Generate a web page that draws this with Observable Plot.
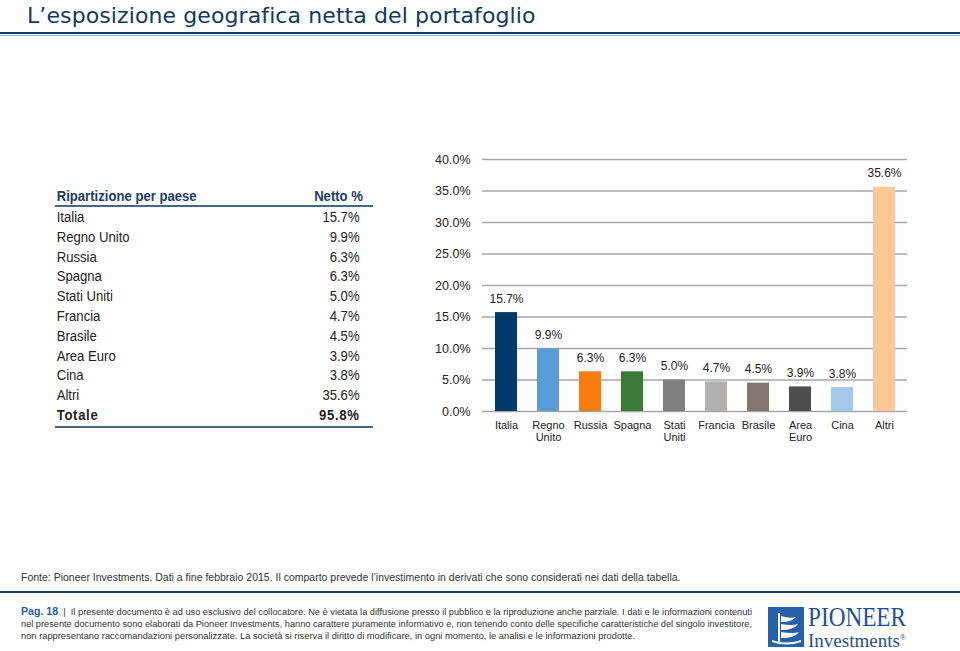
<!DOCTYPE html>
<html><head><meta charset="utf-8">
<script src="https://cdn.jsdelivr.net/npm/d3@7"></script>
<script src="https://cdn.jsdelivr.net/npm/@observablehq/plot@0.6"></script>
<style>
body{margin:0;width:960px;height:651px;position:relative;background:#fff;font-family:Arial,"Liberation Sans",sans-serif;overflow:hidden}
.abs{position:absolute}
#title{left:27px;top:3px;font-family:"DejaVu Sans",Arial,sans-serif;font-size:22px;letter-spacing:0.1px;color:#0f3a63;white-space:nowrap}
#tline{left:0;top:32px;width:960px;height:2px;background:#0f3a63}
#tline2{left:0;top:35px;width:960px;height:1px;background:#9db4cc}
#table{left:55px;top:187px;width:376px;transform:scaleX(0.846);transform-origin:0 0;font-family:Arial,"Liberation Sans",sans-serif}
#table .row{display:flex;justify-content:space-between;height:19.8px;line-height:19.8px;font-size:15.5px;color:#222;padding-left:2px;padding-right:16px}
#table .hdr{font-weight:bold;color:#1c3d63;border-bottom:2px solid #4a6580;height:18px;line-height:18px;padding-right:12px}
#table .tot{font-weight:bold;border-bottom:2px solid #4a6580;height:21px;padding-right:16px;letter-spacing:0.8px}
#chart{left:400px;top:150px}
#fonte{left:21px;top:571px;font-size:10.5px;color:#333;white-space:nowrap}
#fline{left:0;top:591px;width:960px;height:2px;background:#1b3a5c}
.fl{left:21px;font-size:9.6px;line-height:12px;color:#333;white-space:nowrap;transform-origin:0 0}
.fl b{color:#1f5fa8;font-size:11px}
#logo{left:768px;top:607px;width:36px;height:40px;background:#2560a8}
#pio{left:808px;top:604px;font-family:"Liberation Serif","DejaVu Serif",serif;color:#1f4f9a;font-size:27px;line-height:27px;transform:scaleX(0.86);transform-origin:0 0;white-space:nowrap}
#inv{left:808px;top:628px;font-family:"Liberation Serif","DejaVu Serif",serif;color:#1f4f9a;font-size:19px;line-height:20px;white-space:nowrap}
#inv sup{font-size:8px}
</style></head>
<body>
<div class="abs" id="title">L’esposizione geografica netta del portafoglio</div>
<div class="abs" id="tline"></div>
<div class="abs" id="tline2"></div>
<div class="abs" id="table"></div>
<div class="abs" id="chart"></div>
<div class="abs" id="fonte">Fonte: Pioneer Investments. Dati a fine febbraio 2015. Il comparto prevede l’investimento in derivati che sono considerati nei dati della tabella.</div>
<div class="abs" id="fline"></div>
<div class="abs fl" style="top:605px" data-w="731"><b>Pag. 18</b> &nbsp;|&nbsp; Il presente documento è ad uso esclusivo del collocatore. Ne è vietata la diffusione presso il pubblico e la riproduzione anche parziale. I dati e le informazioni contenuti</div>
<div class="abs fl" style="top:618px" data-w="731">nel presente documento sono elaborati da Pioneer Investments, hanno carattere puramente informativo e, non tenendo conto delle specifiche caratteristiche del singolo investitore,</div>
<div class="abs fl" style="top:630px" data-w="614">non rappresentano raccomandazioni personalizzate. La società si riserva il diritto di modificare, in ogni momento, le analisi e le informazioni prodotte.</div>
<div class="abs" id="logo"><svg width="36" height="40"><g fill="#fff"><path d="M10 6 L12 6 L12 36 L10 36Z"/><path d="M13 9 Q22 12 28 10 Q24 15 13 15Z"/><path d="M13 17 Q24 19 30 17 Q26 23 13 23Z"/><path d="M13 25 Q25 27 31 25 Q27 31 13 31Z"/><path d="M4 33 Q18 38 33 33 L33 35 Q18 40 4 35Z"/></g></svg></div>
<div class="abs" id="pio">PIONEER</div>
<div class="abs" id="inv">Investments<sup>®</sup></div>
<script>
const countries = ["Italia","Regno Unito","Russia","Spagna","Stati Uniti","Francia","Brasile","Area Euro","Cina","Altri"];
const values = [15.7, 9.9, 6.3, 6.3, 5.0, 4.7, 4.5, 3.9, 3.8, 35.6];
const colors = ["#003a6b","#5b9bd5","#f97d0e","#3b7a35","#7f7f7f","#b1b0ad","#7f766d","#4d4d4d","#a3c8ec","#fdc896"];
const yTicks = [0,5,10,15,20,25,30,35,40];
const totalLabel = "95.8%";
const headers = ["Ripartizione per paese","Netto %"];

// fit footer lines to their width in the reference
document.querySelectorAll(".fl").forEach(el=>{
  const w = el.getBoundingClientRect().width;
  el.style.transform = `scaleX(${(+el.dataset.w)/w})`;
});

// table
const tbl = document.getElementById("table");
let html = `<div class="row hdr"><span>${headers[0]}</span><span>${headers[1]}</span></div>`;
countries.forEach((c,i)=>{ html += `<div class="row"><span>${c}</span><span>${values[i].toFixed(1)}%</span></div>`; });
html += `<div class="row tot"><span>Totale</span><span>${totalLabel}</span></div>`;
tbl.innerHTML = html;

const data = countries.map((c,i)=>({country:c, value:values[i], color:colors[i]}));
const chart = Plot.plot({
  width: 520, height: 300,
  marginLeft: 82, marginRight: 13, marginTop: 9, marginBottom: 39,
  style:{fontFamily:"Arial, 'Liberation Sans', sans-serif", color:"#222", background:"transparent"},
  x:{domain:countries, paddingInner:0.48, paddingOuter:0.215, label:null},
  y:{domain:[0,40], label:null},
  marks:[
    Plot.gridY(yTicks, {stroke:"#a6a6a6", strokeOpacity:1, strokeWidth:1.5}),
    Plot.axisY({ticks:yTicks, tickSize:0, tickPadding:12, tickFormat:d=>d.toFixed(1)+"%", fontSize:12.5, label:null}),
    Plot.axisX({tickSize:0, tickPadding:9, tickFormat:d=>d.replace(" ","\n"), fontSize:11, label:null, lineHeight:1.1}),
    Plot.barY(data, {x:"country", y:"value", fill:"color"}),
    Plot.text(data, {x:"country", y:"value", text:d=>d.value.toFixed(1)+"%", dy:-10, fontSize:12, fill:"#222", lineAnchor:"bottom"})
  ]
});
document.getElementById("chart").appendChild(chart);
</script>
</body></html>
